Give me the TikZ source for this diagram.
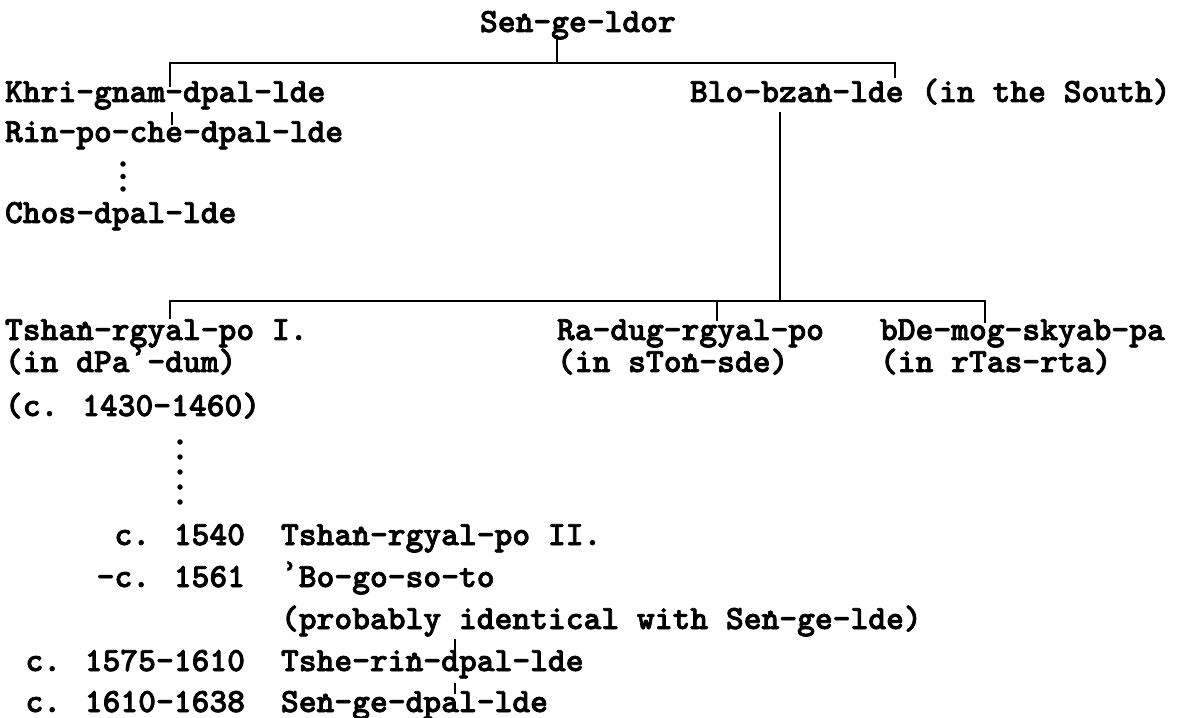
\documentclass[tikz,border=0pt]{standalone}
\usepackage{fontspec}
\newfontfamily\tw{lmmonolt10-bold.otf}[FakeBold=2.2]
\newfontfamily\djm{DejaVu Sans Mono}[FakeBold=1.5]
\newcommand{\ndot}{\rlap{n}\raisebox{0.40em}{.}}
\newcommand{\alif}{\makebox[\fontcharwd\font`n][c]{\djm\bfseries ʾ}}
\begin{document}
\begin{tikzpicture}[x=0.4pt,y=-0.4pt]
\tikzset{
  lbl/.style={inner sep=0pt, outer sep=0pt, anchor=base west,
    font=\tw\fontsize{13.56}{16}\selectfont},
  lbr/.style={lbl, anchor=base east},
  conn/.style={line width=1pt},
  thin/.style={line width=0.6pt},
  dotsa/.style={line width=2.2pt, line cap=round, dash pattern=on 0pt off 5pt},
  dotsb/.style={line width=2.2pt, line cap=round, dash pattern=on 0pt off 6pt}
}
\useasboundingbox (0,0) rectangle (1185,718);

% names
\node[lbl] (sen) at (480,32) {Se\ndot-ge-ldor};
\node[lbl] (khri) at (5,102) {Khri-gnam-dpal-lde};
\node[lbl] (rin) at (5,142) {Rin-po-che-dpal-lde};
\node[lbl] (chos) at (5,223) {Chos-dpal-lde};
\node[lbl] (blo) at (690,102) {Blo-bza\ndot-lde (in the South)};
\node[lbl] (tsh1) at (5,340) {Tsha\ndot-rgyal-po I.};
\node[lbl] (tsh1b) at (5,372) {(in dPa\alif-dum)};
\node[lbl] (tsh1c) at (5,416) {(c. 1430-1460)};
\node[lbl] (radug) at (557,340) {Ra-dug-rgyal-po};
\node[lbl] (radugb) at (557,372) {(in sTo\ndot-sde)};
\node[lbl] (bde) at (880,340) {bDe-mog-skyab-pa};
\node[lbl] (bdeb) at (880,372) {(in rTas-rta)};

\node[lbr] (d1540) at (245,545) {c. 1540};
\node[lbl] (tsh2) at (281,545) {Tsha\ndot-rgyal-po II.};
\node[lbr] (d1561) at (245,587) {-c. 1561};
\node[lbl] (bogo) at (281,587) {\alif Bo-go-so-to};
\node[lbl] (prob) at (281,629) {(probably identical with Se\ndot-ge-lde)};
\node[lbr] (d1575) at (245,671) {c. 1575-1610};
\node[lbl] (tshe) at (281,671) {Tshe-ri\ndot-dpal-lde};
\node[lbr] (d1610) at (245,712) {c. 1610-1638};
\node[lbl] (seng2) at (281,712) {Se\ndot-ge-dpal-lde};

% junction coordinates
\coordinate (s1) at (557,35);
\coordinate (h1m) at (557,63);
\coordinate (h1l) at (170,63);
\coordinate (h1r) at (895,63);
\coordinate (k1) at (170,87);
\coordinate (b1) at (895,78);
\coordinate (kr1) at (172,112);
\coordinate (kr2) at (172,125);
\coordinate (bv1) at (780,112);
\coordinate (bv2) at (780,301);
\coordinate (h2l) at (170,301);
\coordinate (h2r) at (985,301);
\coordinate (h2m) at (717,301);
\coordinate (t1) at (170,319);
\coordinate (r1) at (717,321);
\coordinate (m1) at (985,323);
\coordinate (rd1) at (123,164);
\coordinate (rd2) at (123,191);
\coordinate (td1) at (180,442);
\coordinate (td2) at (180,504);
\coordinate (p1) at (455,639);
\coordinate (p2) at (455,654);
\coordinate (q1) at (455,683);
\coordinate (q2) at (455,694);

% connectors
\draw[conn] (s1) -- (h1m);
\draw[conn] (k1) -- (h1l) -- (h1r) -- (b1);
\draw[thin] (kr1) -- (kr2);
\draw[dotsa] (rd1) -- (rd2);
\draw[conn] (bv1) -- (bv2);
\draw[conn] (t1) -- (h2l) -- (h2r) -- (m1);
\draw[conn] (h2m) -- (r1);
\draw[dotsb] (td1) -- (td2);
\draw[thin] (p1) -- (p2);
\draw[thin] (q1) -- (q2);
\end{tikzpicture}
\end{document}
